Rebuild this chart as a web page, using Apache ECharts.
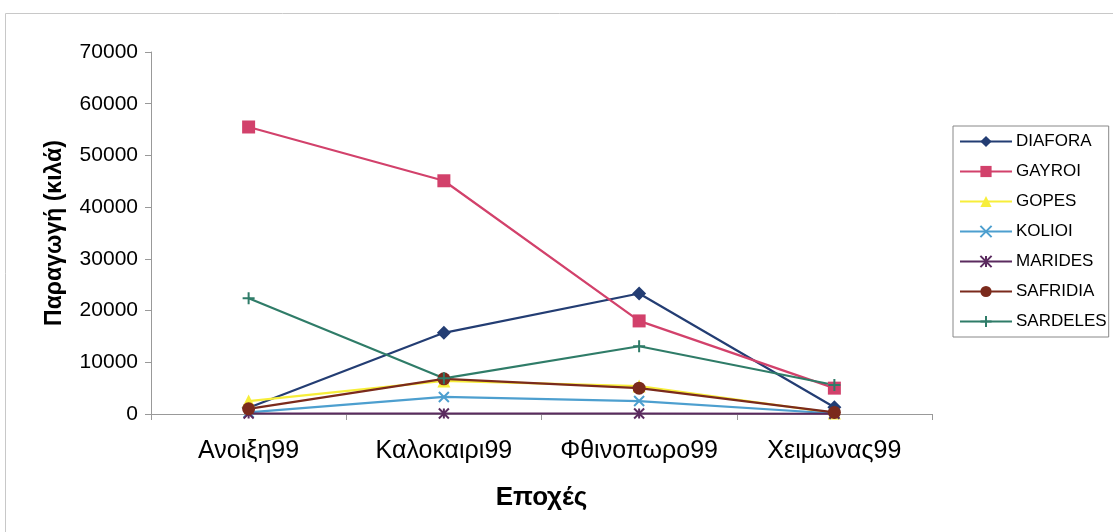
<!DOCTYPE html>
<html>
<head>
<meta charset="utf-8">
<script src="https://cdn.jsdelivr.net/npm/echarts@6/dist/echarts.min.js"></script>
<style>
  html, body { margin: 0; padding: 0; background: #fff; }
  #chart { width: 1113px; height: 532px; }
</style>
</head>
<body>
<div id="chart"></div>
<script>
// seasons and catch per species (kg)
const seasons = ['Ανοιξη99', 'Καλοκαιρι99', 'Φθινοπωρο99', 'Χειμωνας99'];
const diafora = [1200, 15700, 23300, 1300];
const gayroi = [55500, 45100, 18000, 5000];
const gopes = [2500, 6400, 5400, 200];
const kolioi = [300, 3300, 2500, 100];
const marides = [100, 100, 100, 50];
const safridia = [1000, 6800, 5000, 300];
const sardeles = [22400, 6900, 13100, 5600];

const xPath = 'path://M0,0L10,10M10,0L0,10';
const starPath = 'path://M0,0L10,10M10,0L0,10M5,0L5,10';
const plusPath = 'path://M5,0L5,10M0,5L10,5';

function line(name, data, color, symbol, size, stroked) {
  return {
    name: name,
    type: 'line',
    data: data,
    symbol: symbol,
    symbolSize: size,
    showAllSymbol: true,
    lineStyle: { color: color, width: 2.2 },
    itemStyle: stroked
      ? { color: 'rgba(0,0,0,0)', borderColor: color, borderWidth: 2 }
      : { color: color, borderColor: color, borderWidth: 0 },
    emphasis: { disabled: true }
  };
}

const chart = echarts.init(document.getElementById('chart'));
chart.setOption({
  animation: false,
  textStyle: { fontFamily: 'Liberation Sans, Arial, sans-serif' },
  graphic: [{
    type: 'rect',
    shape: { x: 5.5, y: 13.5, width: 1120, height: 540 },
    style: { fill: 'none', stroke: '#c8c8c8', lineWidth: 1 },
    silent: true
  }],
  legend: {
    orient: 'vertical',
    left: 953,
    top: 126,
    itemWidth: 52,
    itemHeight: 14,
    itemGap: 13,
    padding: [7, 2, 7, 6],
    borderColor: '#888',
    borderWidth: 1,
    textStyle: { fontSize: 17, lineHeight: 16, color: '#000', padding: [0, 0, 0, -1] },
    data: ['DIAFORA', 'GAYROI', 'GOPES', 'KOLIOI', 'MARIDES', 'SAFRIDIA', 'SARDELES']
  },
  grid: { left: 151, right: 181, top: 52, bottom: 118 },
  xAxis: {
    type: 'category',
    data: seasons,
    boundaryGap: true,
    name: 'Εποχές',
    nameLocation: 'middle',
    nameGap: 71,
    nameTextStyle: { fontSize: 26, fontWeight: 'bold', color: '#000' },
    axisLine: { lineStyle: { color: '#999', width: 1 } },
    axisTick: { show: true, length: 6, lineStyle: { color: '#999' } },
    axisLabel: { fontSize: 25, color: '#000', margin: 25, interval: 0, hideOverlap: false },
    splitLine: { show: false }
  },
  yAxis: {
    type: 'value',
    min: 0,
    max: 70000,
    interval: 10000,
    name: 'Παραγωγή (κιλά)',
    nameLocation: 'middle',
    nameGap: 85,
    nameRotate: 90,
    nameTextStyle: { fontSize: 23, fontWeight: 'bold', color: '#000' },
    axisLine: { show: true, lineStyle: { color: '#999', width: 1 } },
    axisTick: { show: true, length: 6, lineStyle: { color: '#999' } },
    axisLabel: { fontSize: 21, color: '#000', margin: 13, formatter: v => String(v) },
    splitLine: { show: false }
  },
  series: [
    line('DIAFORA', diafora, '#233d73', 'diamond', 14, false),
    line('GAYROI', gayroi, '#d2416b', 'rect', 13, false),
    line('GOPES', gopes, '#f7ee3a', 'triangle', 13, false),
    line('KOLIOI', kolioi, '#4d9fcf', xPath, 10, true),
    line('MARIDES', marides, '#5b2b5f', starPath, 10, true),
    line('SAFRIDIA', safridia, '#7b2a1c', 'circle', 13, false),
    line('SARDELES', sardeles, '#2f7c68', plusPath, 12, true)
  ]
});
</script>
</body>
</html>
